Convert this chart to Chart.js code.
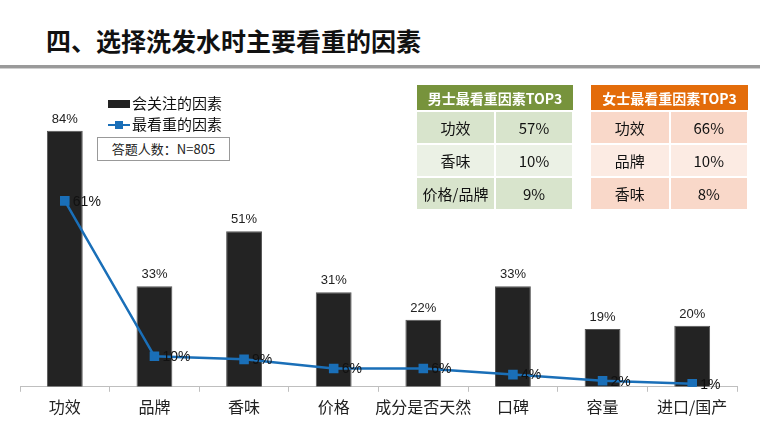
<!DOCTYPE html>
<html>
<head>
<meta charset="utf-8">
<script src="https://cdn.jsdelivr.net/npm/chart.js@4"></script>
<style>
  body { margin: 0; width: 760px; height: 448px; background: #fff; position: relative; overflow: hidden;
         font-family: "Noto Sans CJK SC", "Noto Sans", sans-serif; }
  #title { position: absolute; left: 46px; top: 22px; font-size: 25px; font-weight: bold; color: #111; letter-spacing: 0px; }
  #rule { position: absolute; left: 0; top: 65px; width: 760px; height: 3px; background: #9a9a9a; border-bottom: 1px solid #d0d0d0; }
  #chartBox { position: absolute; left: 0; top: 0; }
  .legend { position: absolute; left: 108px; font-size: 15px; color: #111; line-height: 18px; }
  .legend span.sw { display: inline-block; vertical-align: middle; margin-right: 2px; position: relative; }
  #n { position: absolute; left: 97px; top: 137px; width: 131px; height: 22px; border: 1px solid #999;
       font-size: 13px; text-align: center; line-height: 22px; color: #222; background: #fff; }
  table { position: absolute; border-collapse: collapse; font-size: 15px; color: #111; }
  td { text-align: center; height: 31px; padding: 0; border-bottom: 2px solid #fff; border-right: 2px solid #fff; }
  th { height: 25px; padding: 0; color: #fff; font-size: 14px; font-weight: bold; border-bottom: 2px solid #fff; }
</style>
</head>
<body>
<div id="title">四、选择洗发水时主要看重的因素</div>
<div id="rule"></div>
<div id="chartBox"><canvas id="c" width="760" height="448"></canvas></div>
<div class="legend" style="top:94px"><span class="sw" style="width:22px;height:8px;background:#222;top:-1px"></span>会关注的因素</div>
<div class="legend" style="top:115px"><span class="sw" style="width:22px;height:2px;background:#1a6fb8;top:-1px"><span style="position:absolute;left:7px;top:-3px;width:8px;height:8px;background:#1a6fb8"></span></span>最看重的因素</div>
<div id="n">答题人数：N=805</div>
<table id="male" style="left:417px;top:85px;width:157px"></table>
<table id="female" style="left:591px;top:85px;width:158px"></table>
<script>
// 카테고리 / 시리즈 데이터
const categories = ["功效", "品牌", "香味", "价格", "成分是否天然", "口碑", "容量", "进口/国产"];
const concernValues = [84, 33, 51, 31, 22, 33, 19, 20];   // 会关注的因素
const importantValues = [61, 10, 9, 6, 6, 4, 2, 1];        // 最看重的因素
const seriesNames = ["会关注的因素", "最看重的因素"];

const maleTitle = "男士最看重因素TOP3";
const maleFactors = ["功效", "香味", "价格/品牌"];
const maleValues = [57, 10, 9];
const femaleTitle = "女士最看重因素TOP3";
const femaleFactors = ["功效", "品牌", "香味"];
const femaleValues = [66, 10, 8];

function buildTable(id, title, factors, values, headColor, rowColors) {
    const t = document.getElementById(id);
    let html = '<tr><th colspan="2" style="background:' + headColor + '">' + title + '</th></tr>';
    for (let i = 0; i < factors.length; i++) {
        const bg = rowColors[i % 2];
        html += '<tr><td style="background:' + bg + ';width:50%">' + factors[i] + '</td>' +
                '<td style="background:' + bg + '">' + values[i] + '%</td></tr>';
    }
    t.innerHTML = html;
}
buildTable("male", maleTitle, maleFactors, maleValues, "#77933c", ["#d8e4cc", "#ebf1e5"]);
buildTable("female", femaleTitle, femaleFactors, femaleValues, "#e36c0a", ["#f9d8c9", "#fcebe3"]);

// 값 라벨 플러그인
const labelPlugin = {
    id: "valueLabels",
    afterDatasetsDraw(chart) {
        const c = chart.ctx;
        c.save();
        const bars = chart.getDatasetMeta(0).data;
        c.font = "13px 'Liberation Sans', Arial, sans-serif";
        c.fillStyle = "#222";
        c.textAlign = "center";
        c.textBaseline = "bottom";
        bars.forEach((b, i) => c.fillText(concernValues[i] + "%", b.x, b.y - 5));
        const pts = chart.getDatasetMeta(1).data;
        c.font = "14px 'Liberation Sans', Arial, sans-serif";
        c.fillStyle = "#111";
        c.textAlign = "left";
        c.textBaseline = "middle";
        pts.forEach((p, i) => c.fillText(importantValues[i] + "%", p.x + 8, p.y + 1));
        c.restore();
    }
};

const chart = new Chart(document.getElementById("c"), {
    data: {
        labels: categories,
        datasets: [{
            type: "bar",
            label: seriesNames[0],
            data: concernValues,
            backgroundColor: "#232323",
            borderColor: "#555",
            borderWidth: 1,
            categoryPercentage: 1,
            barPercentage: 0.4,
            order: 2
        }, {
            type: "line",
            label: seriesNames[1],
            data: importantValues,
            borderColor: "#1a6fb8",
            backgroundColor: "#1a6fb8",
            borderWidth: 2.5,
            pointStyle: "rect",
            pointRadius: 5,
            tension: 0,
            order: 1
        }]
    },
    options: {
        responsive: false,
        animation: false,
        layout: { padding: { left: 20, right: 23, top: 82, bottom: 25 } },
        plugins: { legend: { display: false }, tooltip: { enabled: false } },
        scales: {
            y: { display: false, min: 0, max: 100 },
            x: {
                grid: { drawOnChartArea: false, drawTicks: true, tickLength: 5, color: "#bfbfbf" },
                border: { color: "#bfbfbf" },
                ticks: { color: "#222", font: { size: 16, family: "'Noto Sans CJK SC'" }, padding: 6, maxRotation: 0, autoSkip: false }
            }
        }
    },
    plugins: [labelPlugin]
});
</script>
</body>
</html>
